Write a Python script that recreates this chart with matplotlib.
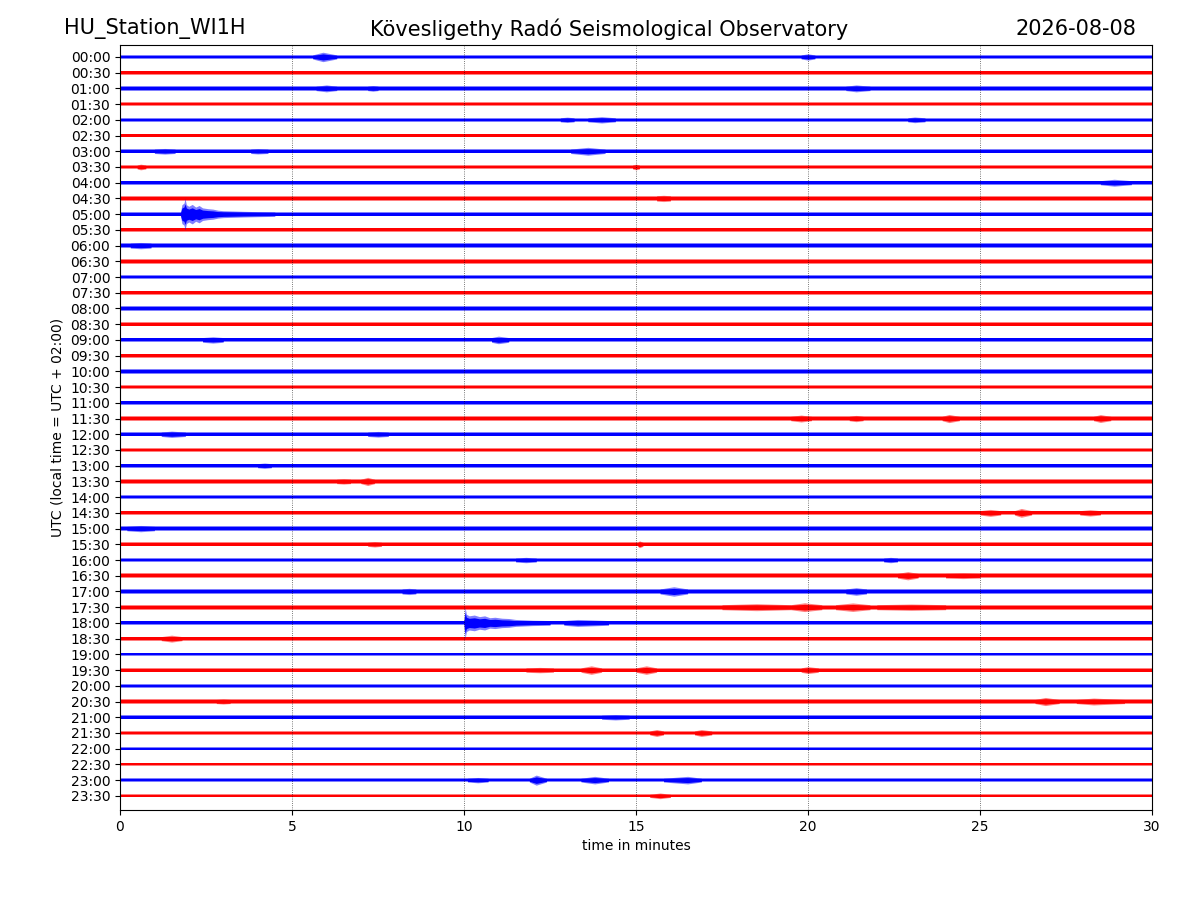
import matplotlib
matplotlib.use("Agg")
import matplotlib.pyplot as plt

# helicorder rows, 30 minutes each
hours = [f"{h:02d}:{m:02d}" for h in range(24) for m in (0, 30)]
colors = ["blue", "red"]

# background noise half-width of each row (in row spacings)
base_amp = [0.13, 0.13, 0.14, 0.13, 0.13, 0.12, 0.14, 0.13, 0.13, 0.17,
            0.14, 0.15, 0.16, 0.15, 0.14, 0.14, 0.14, 0.14, 0.15, 0.13,
            0.14, 0.13, 0.13, 0.14, 0.14, 0.12, 0.13, 0.14, 0.12, 0.14,
            0.14, 0.13, 0.13, 0.15, 0.16, 0.16, 0.15, 0.13, 0.11, 0.14,
            0.11, 0.13, 0.13, 0.13, 0.11, 0.10, 0.12, 0.10]

# local events: row, start, peak, end (minutes), peak half-width
bumps = [
    (0, 5.6, 5.9, 6.3, 0.30), (0, 19.8, 20.0, 20.2, 0.20),
    (2, 5.7, 6.0, 6.3, 0.22), (2, 7.2, 7.35, 7.5, 0.18), (2, 21.1, 21.4, 21.8, 0.22),
    (4, 13.6, 14.0, 14.4, 0.20), (4, 12.8, 13.0, 13.2, 0.17), (4, 22.9, 23.1, 23.4, 0.18),
    (6, 1.0, 1.3, 1.6, 0.18), (6, 3.8, 4.0, 4.3, 0.17), (6, 13.1, 13.6, 14.1, 0.25),
    (7, 0.5, 0.6, 0.75, 0.18), (7, 14.9, 15.0, 15.1, 0.18),
    (8, 28.5, 28.9, 29.4, 0.22),
    (9, 15.6, 15.8, 16.0, 0.20),
    (12, 0.3, 0.6, 0.9, 0.20),
    (18, 2.4, 2.7, 3.0, 0.20), (18, 10.8, 11.0, 11.3, 0.24),
    (23, 19.5, 19.8, 20.1, 0.22), (23, 21.2, 21.4, 21.6, 0.20),
    (23, 23.9, 24.1, 24.4, 0.26), (23, 28.3, 28.5, 28.8, 0.25),
    (24, 1.2, 1.5, 1.9, 0.20), (24, 7.2, 7.5, 7.8, 0.18),
    (26, 4.0, 4.2, 4.4, 0.17),
    (27, 7.0, 7.2, 7.4, 0.26), (27, 6.3, 6.5, 6.7, 0.17),
    (29, 25.0, 25.3, 25.6, 0.22), (29, 26.0, 26.2, 26.5, 0.28), (29, 27.9, 28.2, 28.5, 0.20),
    (30, 0.2, 0.6, 1.0, 0.20),
    (31, 15.05, 15.1, 15.2, 0.22), (31, 7.2, 7.4, 7.6, 0.17),
    (32, 11.5, 11.8, 12.1, 0.17), (32, 22.2, 22.4, 22.6, 0.17),
    (33, 22.6, 22.9, 23.2, 0.26), (33, 24.0, 24.5, 25.0, 0.18),
    (34, 8.2, 8.4, 8.6, 0.20), (34, 15.7, 16.1, 16.5, 0.30), (34, 21.1, 21.4, 21.7, 0.24),
    (35, 17.5, 18.5, 19.5, 0.22), (35, 19.5, 19.9, 20.4, 0.28),
    (35, 20.8, 21.3, 21.8, 0.27), (35, 22.0, 23.0, 24.0, 0.20),
    (36, 12.9, 13.3, 14.2, 0.22),
    (37, 1.2, 1.5, 1.8, 0.22),
    (39, 13.4, 13.7, 14.0, 0.27), (39, 15.0, 15.3, 15.6, 0.27),
    (39, 19.8, 20.0, 20.3, 0.22), (39, 11.8, 12.2, 12.6, 0.17),
    (41, 26.6, 26.9, 27.3, 0.26), (41, 27.8, 28.3, 29.2, 0.22), (41, 2.8, 3.0, 3.2, 0.16),
    (42, 14.0, 14.4, 14.8, 0.17),
    (43, 15.4, 15.6, 15.8, 0.22), (43, 16.7, 16.9, 17.2, 0.22),
    (46, 10.1, 10.4, 10.7, 0.17), (46, 11.9, 12.1, 12.4, 0.32),
    (46, 13.4, 13.8, 14.2, 0.24), (46, 15.8, 16.5, 16.9, 0.24),
    (47, 15.4, 15.7, 16.0, 0.18),
]

# the two larger earthquakes: envelope points
quake_rows = [10, 36]
quake_x = [
    [1.76, 1.80, 1.86, 1.89, 1.93, 2.0, 2.1, 2.2, 2.3, 2.4, 2.55, 2.7, 2.85, 3.0,
     3.3, 3.6, 4.0, 4.5],
    [10.00, 10.03, 10.07, 10.15, 10.3, 10.45, 10.6, 10.75, 10.9, 11.1, 11.3, 11.5,
     11.7, 12.0, 12.5],
]
quake_amp = [
    [0.14, 0.60, 0.70, 1.00, 0.60, 0.50, 0.62, 0.45, 0.55, 0.40, 0.35, 0.32, 0.25, 0.22,
     0.20, 0.18, 0.16, 0.14],
    [0.15, 1.00, 0.55, 0.45, 0.50, 0.40, 0.45, 0.33, 0.36, 0.30, 0.28, 0.22, 0.20, 0.17,
     0.15],
]

fig, ax = plt.subplots(figsize=(12, 9), dpi=100)
fig.subplots_adjust(left=0.1, right=0.96, bottom=0.1, top=0.95)


def band(xs, ys, row):
    # light outer fuzz plus a solid core, like a dense noisy trace
    c = colors[row % 2]
    ax.fill_between(xs, [row - v for v in ys], [row + v for v in ys],
                    color=c, alpha=0.5, lw=0)
    ax.fill_between(xs, [row - 0.65 * v for v in ys], [row + 0.65 * v for v in ys],
                    color=c, lw=0)


for i, a in enumerate(base_amp):
    band([0, 30], [a, a], i)

for row, x0, xp, x1, amp in bumps:
    b = base_amp[row]
    band([x0, xp, x1], [b, amp, b], row)

for row, xs, ys in zip(quake_rows, quake_x, quake_amp):
    band(xs, ys, row)

ax.set_xlim(0, 30)
ax.set_ylim(47.9, -0.76)
ax.set_yticks(range(len(hours)))
ax.set_yticklabels(hours)
ax.set_xticks([0, 5, 10, 15, 20, 25, 30])
ax.grid(axis="x", color="black", linestyle=":", linewidth=0.6, alpha=0.7)
ax.set_xlabel("time in minutes")
ax.set_ylabel("UTC (local time = UTC + 02:00)")

fig.text(0.053, 0.968, "HU_Station_WI1H", fontsize=15, ha="left", va="center")
fig.text(0.508, 0.968, "Kövesligethy Radó Seismological Observatory", fontsize=15,
         ha="center", va="center")
fig.text(0.947, 0.968, "2026-08-08", fontsize=15, ha="right", va="center")

plt.savefig("out.png")
